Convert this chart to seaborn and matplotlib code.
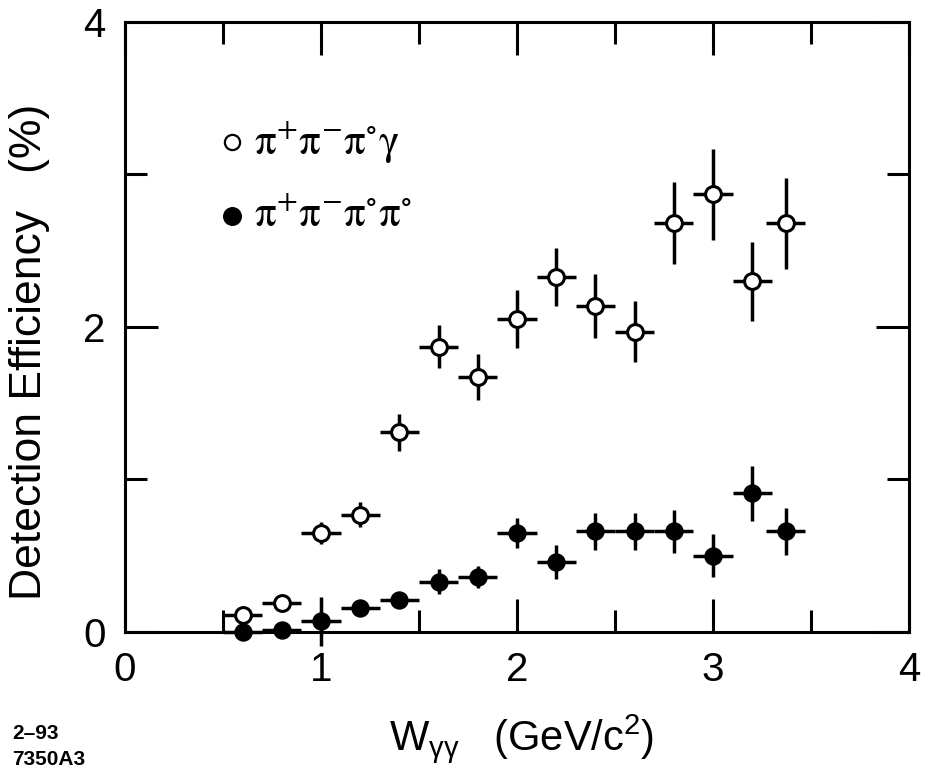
import matplotlib
matplotlib.use("Agg")
import matplotlib.pyplot as plt
import seaborn as sns
import pandas as pd

# bin centres (GeV/c^2) and efficiencies (%)
w_gg = [0.6, 0.8, 1.0, 1.2, 1.4, 1.6, 1.8, 2.0, 2.2, 2.4, 2.6, 2.8, 3.0, 3.2, 3.37]

eff_3pi_gamma = [0.11, 0.19, 0.65, 0.77, 1.31, 1.87, 1.67, 2.05, 2.33, 2.14, 1.97, 2.68, 2.87, 2.30, 2.68]
err_3pi_gamma = [0.02, 0.02, 0.07, 0.08, 0.12, 0.14, 0.15, 0.19, 0.19, 0.21, 0.20, 0.27, 0.30, 0.26, 0.30]

eff_4pi = [0.0, 0.01, 0.07, 0.16, 0.21, 0.33, 0.36, 0.65, 0.46, 0.66, 0.66, 0.66, 0.50, 0.91, 0.66]
err_4pi = [0.01, 0.01, 0.16, 0.03, 0.03, 0.08, 0.07, 0.10, 0.11, 0.12, 0.12, 0.14, 0.14, 0.18, 0.155]

bin_half_width = 0.1

labels = [r"$\mathrm{\pi^{+}\pi^{-}\pi^{\circ}\gamma}$",
          r"$\mathrm{\pi^{+}\pi^{-}\pi^{\circ}\pi^{\circ}}$"]

df = pd.DataFrame({
    "W": w_gg + w_gg,
    "eff": eff_3pi_gamma + eff_4pi,
    "err": err_3pi_gamma + err_4pi,
    "channel": ["3pi_gamma"] * len(w_gg) + ["4pi"] * len(w_gg),
})

sns.set_theme(style="ticks")
plt.rcParams["font.family"] = ["Liberation Sans", "DejaVu Sans"]
plt.rcParams["axes.linewidth"] = 2.2
plt.rcParams["text.color"] = "black"
plt.rcParams["axes.labelcolor"] = "black"

fig = plt.figure(figsize=(9.27, 7.71), dpi=100)
ax = fig.add_axes([0.1348, 0.1803, 0.8458, 0.7912])

# error bars first, markers on top
for ch in ["3pi_gamma", "4pi"]:
    d = df[df["channel"] == ch]
    ax.errorbar(d["W"], d["eff"], yerr=d["err"], xerr=bin_half_width,
                fmt="none", ecolor="black", elinewidth=2.5, capsize=0,
                zorder=2, clip_on=False)

sns.scatterplot(data=df[df["channel"] == "3pi_gamma"], x="W", y="eff", ax=ax,
                marker="o", s=130, facecolor="white", edgecolor="black",
                linewidth=2.2, zorder=3, clip_on=False, legend=False)
sns.scatterplot(data=df[df["channel"] == "4pi"], x="W", y="eff", ax=ax,
                marker="o", s=150, color="black", edgecolor="black",
                linewidth=1, zorder=3, clip_on=False, legend=False)

ax.set_xlim(0, 4)
ax.set_ylim(0, 4)
ax.set_xticks([0, 1, 2, 3, 4])
ax.set_xticks([0.5, 1.5, 2.5, 3.5], minor=True)
ax.set_yticks([0, 2, 4])
ax.set_yticks([1, 3], minor=True)
ax.tick_params(which="both", direction="in", top=True, right=True, width=2.2,
               labelsize=29, colors="black")
ax.tick_params(which="major", length=24, pad=14)
ax.tick_params(which="minor", length=16)
for s in ax.spines.values():
    s.set_visible(True)
    s.set_color("black")

ax.set_xlabel(r"$\mathregular{W_{\gamma\gamma}}$   (GeV/c$\mathregular{^2}$)", fontsize=30)
ax.xaxis.label.set_va("baseline")
ax.xaxis.set_label_coords(0.506, -0.194)
ax.set_ylabel("Detection Efficiency   (%)", fontsize=32)
ax.yaxis.label.set_va("center")
ax.yaxis.set_label_coords(-0.122, 0.459)

# legend drawn as markers + serif text
ax.scatter([0.545], [3.21], s=120, facecolor="white", edgecolor="black", linewidth=1.6, clip_on=False)
ax.scatter([0.545], [2.73], s=160, color="black", clip_on=False)
ax.text(0.66, 3.21, labels[0], fontsize=31, va="center", ha="left", math_fontfamily="stix")
ax.text(0.66, 2.73, labels[1], fontsize=31, va="center", ha="left", math_fontfamily="stix")

fig.text(0.013, 0.0415, "2\u201393", fontsize=15, fontweight="bold", ha="left", va="baseline")
fig.text(0.013, 0.0078, "7350A3", fontsize=15, fontweight="bold", ha="left", va="baseline")

fig.savefig("out.png", dpi=100)
